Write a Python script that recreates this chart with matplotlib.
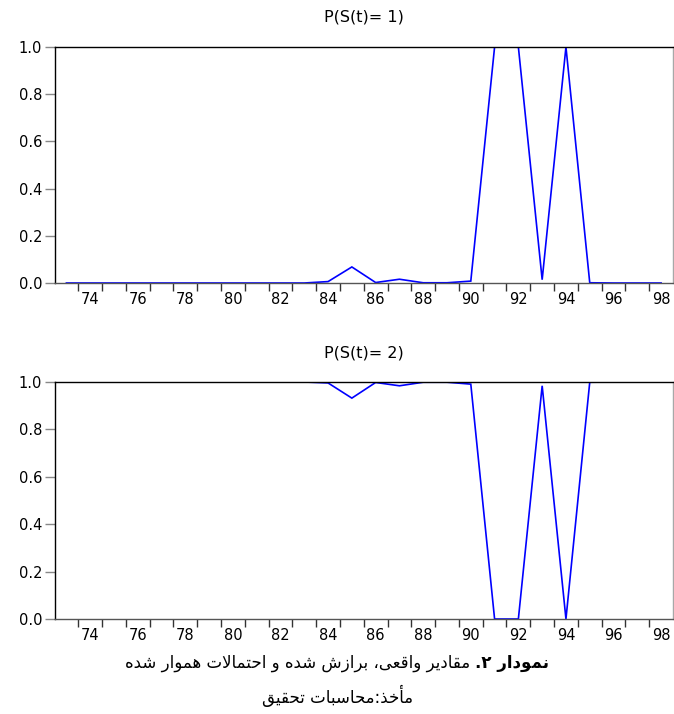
import matplotlib
matplotlib.use('Agg')
import matplotlib.pyplot as plt
from matplotlib import font_manager
from matplotlib.ft2font import FT2Font
from matplotlib.ticker import FixedLocator, FixedFormatter, FormatStrFormatter
from matplotlib.offsetbox import TextArea, HPacker, AnchoredOffsetbox

# ---------------- data ----------------
years = [73, 74, 75, 76, 77, 78, 79, 80, 81, 82, 83, 84, 85, 86,
         87, 88, 89, 90, 91, 92, 93, 94, 95, 96, 97, 98]
p_state1 = [0.0, 0.0, 0.0, 0.0, 0.0, 0.0, 0.0, 0.0, 0.0, 0.0, 0.0,
            0.006, 0.068, 0.002, 0.016, 0.001, 0.001, 0.008,
            1.0, 1.0, 0.014, 1.0, 0.001, 0.0, 0.0, 0.0]
p_state2 = [1.0, 1.0, 1.0, 1.0, 1.0, 1.0, 1.0, 1.0, 1.0, 1.0, 1.0,
            0.996, 0.932, 0.998, 0.984, 0.999, 0.999, 0.991,
            0.0, 0.0, 0.984, 0.0, 0.999, 1.0, 1.0, 1.0]
xtick_years = [74, 76, 78, 80, 82, 84, 86, 88, 90, 92, 94, 96, 98]
xtick_labels = ['74', '76', '78', '80', '82', '84', '86', '88', '90', '92', '94', '96', '98']
yticks = [0.0, 0.2, 0.4, 0.6, 0.8, 1.0]
titles = ['P(S(t)= 1)', 'P(S(t)= 2)']
caption_bold = 'نمودار ۲.'
caption_regular = 'مقادیر واقعی، برازش شده و احتمالات هموار شده'
caption_source = 'مأخذ:محاسبات تحقیق'

# ------------- Arabic/Persian shaping (matplotlib has no shaper) -------------
fpath = font_manager.findfont(font_manager.FontProperties(family='DejaVu Sans'))
cmap = FT2Font(fpath).get_charmap()

FORMS = {
    'ا': (0xFE8D, 0xFE8E, None, None),
    'أ': (0xFE83, 0xFE84, None, None),
    'ب': (0xFE8F, 0xFE90, 0xFE91, 0xFE92),
    'ت': (0xFE95, 0xFE96, 0xFE97, 0xFE98),
    'ح': (0xFEA1, 0xFEA2, 0xFEA3, 0xFEA4),
    'خ': (0xFEA5, 0xFEA6, 0xFEA7, 0xFEA8),
    'د': (0xFEA9, 0xFEAA, None, None),
    'ذ': (0xFEAB, 0xFEAC, None, None),
    'ر': (0xFEAD, 0xFEAE, None, None),
    'ز': (0xFEAF, 0xFEB0, None, None),
    'س': (0xFEB1, 0xFEB2, 0xFEB3, 0xFEB4),
    'ش': (0xFEB5, 0xFEB6, 0xFEB7, 0xFEB8),
    'ع': (0xFEC9, 0xFECA, 0xFECB, 0xFECC),
    'ق': (0xFED5, 0xFED6, 0xFED7, 0xFED8),
    'ل': (0xFEDD, 0xFEDE, 0xFEDF, 0xFEE0),
    'م': (0xFEE1, 0xFEE2, 0xFEE3, 0xFEE4),
    'ن': (0xFEE5, 0xFEE6, 0xFEE7, 0xFEE8),
    'ه': (0xFEE9, 0xFEEA, 0xFEEB, 0xFEEC),
    'و': (0xFEED, 0xFEEE, None, None),
}
if all(c in cmap for c in (0xFBFC, 0xFBFD, 0xFBFE, 0xFBFF)):
    FORMS['ی'] = (0xFBFC, 0xFBFD, 0xFBFE, 0xFBFF)
else:
    FORMS['ی'] = (0xFEEF, 0xFEF0, 0xFEF3, 0xFEF4)
LAM_ALEF = {'ا': (0xFEFB, 0xFEFC), 'أ': (0xFEF7, 0xFEF8)}


def shape_rtl(s):
    if 0x06F2 not in cmap:
        s = s.replace('۲', '٢')
    out = []
    i = 0
    n = len(s)
    while i < n:
        ch = s[i]
        if ch not in FORMS:
            out.append(ch)
            i += 1
            continue
        prev = s[i - 1] if i > 0 else None
        prev_conn = prev in FORMS and FORMS[prev][2] is not None and \
            not (i >= 2 and s[i - 2] == 'ل' and prev in LAM_ALEF)
        if ch == 'ل' and i + 1 < n and s[i + 1] in LAM_ALEF:
            iso, fin = LAM_ALEF[s[i + 1]]
            out.append(chr(fin if prev_conn else iso))
            i += 2
            continue
        nxt = s[i + 1] if i + 1 < n else None
        next_conn = FORMS[ch][2] is not None and nxt in FORMS
        iso, fin, ini, med = FORMS[ch]
        if prev_conn and next_conn:
            code = med
        elif prev_conn:
            code = fin
        elif next_conn:
            code = ini
        else:
            code = iso
        out.append(chr(code))
        i += 1
    return ''.join(out)[::-1]


# ---------------- figure ----------------
W, H = 674, 714
fig = plt.figure(figsize=(W / 100, H / 100), dpi=100)
fig.patch.set_facecolor('white')

left_px, right_px = 54.5, 673
panels = [(47, 283, p_state1, 17), (382, 619, p_state2, 353)]

for k, (top_px, bot_px, vals, title_y) in enumerate(panels):
    ax = fig.add_axes([left_px / W, 1 - bot_px / H,
                       (right_px - left_px) / W, (bot_px - top_px) / H])
    ax.plot(years, vals, color='#0000ff', linewidth=1.2, solid_joinstyle='miter')
    ax.set_xlim(years[0] - 0.5, years[-1] + 0.5)
    ax.set_ylim(0, 1)
    # spines
    ax.spines['left'].set_color('black')
    ax.spines['top'].set_color('black')
    ax.spines['bottom'].set_color('#555555')
    ax.spines['right'].set_color('#a8a8a8')
    for sp in ax.spines.values():
        sp.set_linewidth(1.0)
    # x: tick marks at year boundaries, labels at even years
    ax.xaxis.set_major_locator(FixedLocator(xtick_years))
    ax.xaxis.set_major_formatter(FixedFormatter(xtick_labels))
    ax.xaxis.set_minor_locator(FixedLocator([y + 0.5 for y in years[:-1]]))
    ax.tick_params(axis='x', which='major', length=0, pad=6.5, labelsize=10.5,
                   labelcolor='black')
    ax.tick_params(axis='x', which='minor', direction='out', length=5.5,
                   width=1.0, color='#333333')
    # y ticks
    ax.set_yticks(yticks)
    ax.yaxis.set_major_formatter(FormatStrFormatter('%.1f'))
    ax.tick_params(axis='y', which='major', direction='out', length=7,
                   width=1.0, color='#888888', pad=2, labelsize=10.5,
                   labelcolor='black')
    for lab in ax.get_xticklabels() + ax.get_yticklabels():
        lab.set_family('DejaVu Sans')
    fig.text((left_px + right_px) / 2 / W, 1 - title_y / H, titles[k],
             ha='center', va='center', fontsize=11.5, family='DejaVu Sans')

# ---------------- caption ----------------
ta_reg = TextArea(shape_rtl(caption_regular),
                  textprops=dict(fontsize=12, family='DejaVu Sans'))
ta_bold = TextArea(shape_rtl(caption_bold),
                   textprops=dict(fontsize=12, family='DejaVu Sans',
                                  fontweight='bold'))
line1 = HPacker(children=[ta_reg, ta_bold], align='baseline', pad=0, sep=4)
ab1 = AnchoredOffsetbox(loc='center', child=line1,
                        bbox_to_anchor=(337 / W, 1 - 663 / H),
                        bbox_transform=fig.transFigure, frameon=False,
                        pad=0, borderpad=0)
fig.add_artist(ab1)
fig.text(337 / W, 1 - 696 / H, shape_rtl(caption_source), ha='center',
         va='center', fontsize=12, family='DejaVu Sans')

fig.savefig('out.png', dpi=100, facecolor='white')
